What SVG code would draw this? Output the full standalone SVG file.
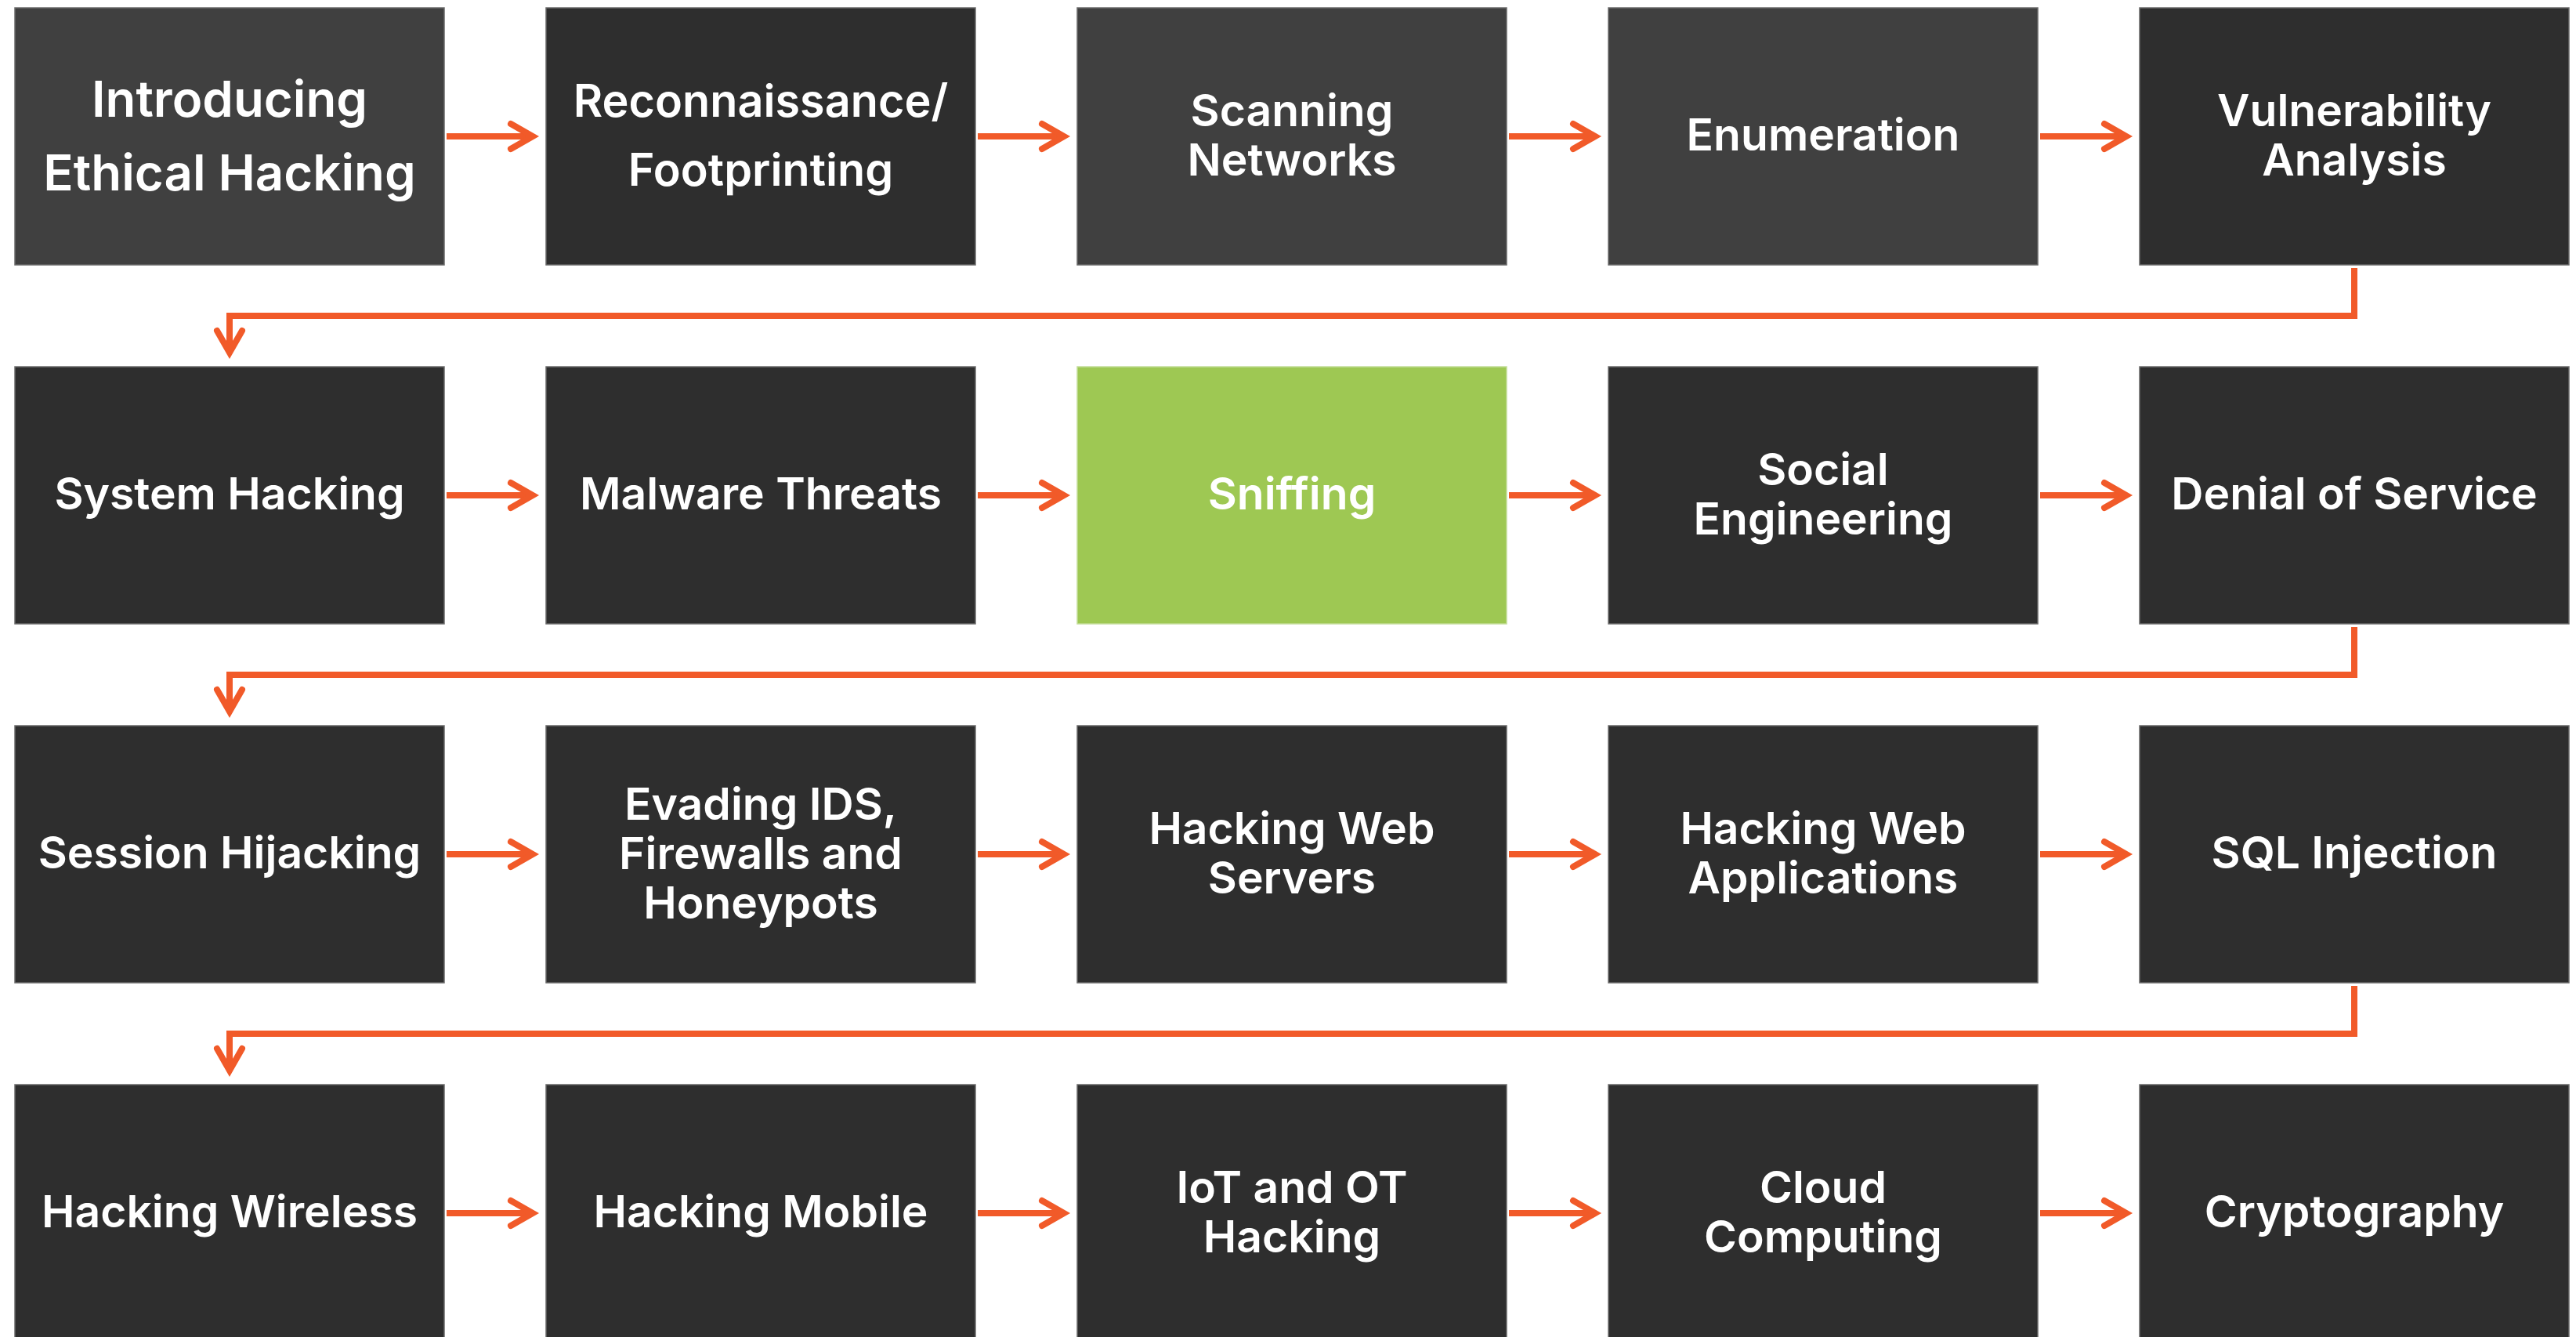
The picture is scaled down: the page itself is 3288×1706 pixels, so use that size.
<svg xmlns="http://www.w3.org/2000/svg" width="3288" height="1706" viewBox="0 0 3288 1706">
<style>
.box{fill:#2e2e2e;stroke:#6a6a6a;stroke-width:1.5}
.lite{fill:#404040}
.green{fill:#9ec853;stroke:#c2dd96}
.t{fill:#ffffff;font-family:Inter,"Liberation Sans",sans-serif;font-weight:600;font-size:57px;text-anchor:middle}
.conn{fill:none;stroke:#f15a29;stroke-width:8;stroke-linejoin:miter;marker-end:url(#chev)}
</style>
<defs>
<marker id="chev" viewBox="0 0 50 40" markerWidth="50" markerHeight="40" markerUnits="userSpaceOnUse" refX="36" refY="20" orient="auto" overflow="visible">
<path d="M 8 4 L 36 20 L 8 36" fill="none" stroke="#f15a29" stroke-width="8" stroke-linecap="round" stroke-linejoin="miter"/>
</marker>
</defs>
<rect width="3288" height="1706" fill="#ffffff"/>

<g id="connectors">
<path class="conn" d="M570 174H680"/>
<path class="conn" d="M1248 174H1358"/>
<path class="conn" d="M1926 174H2036"/>
<path class="conn" d="M2604 174H2714"/>
<path class="conn" d="M3005 342V403H293V450"/>
<path class="conn" d="M570 632H680"/>
<path class="conn" d="M1248 632H1358"/>
<path class="conn" d="M1926 632H2036"/>
<path class="conn" d="M2604 632H2714"/>
<path class="conn" d="M3005 800V861H293V908"/>
<path class="conn" d="M570 1090H680"/>
<path class="conn" d="M1248 1090H1358"/>
<path class="conn" d="M1926 1090H2036"/>
<path class="conn" d="M2604 1090H2714"/>
<path class="conn" d="M3005 1258V1319H293V1366"/>
<path class="conn" d="M570 1548H680"/>
<path class="conn" d="M1248 1548H1358"/>
<path class="conn" d="M1926 1548H2036"/>
<path class="conn" d="M2604 1548H2714"/>
</g>

<g id="n1"><rect class="box lite" x="19" y="10" width="548" height="328"/><text class="t" style="font-size:63.5px"><tspan x="293" y="149">Introducing</tspan><tspan x="293" y="243">Ethical Hacking</tspan></text></g>
<g id="n2"><rect class="box" x="697" y="10" width="548" height="328"/><text class="t" style="font-size:57.5px"><tspan x="971" y="149">Reconnaissance/</tspan><tspan x="971" y="237">Footprinting</tspan></text></g>
<g id="n3"><rect class="box lite" x="1375" y="10" width="548" height="328"/><text class="t"><tspan x="1649" y="161">Scanning</tspan><tspan x="1649" y="224">Networks</tspan></text></g>
<g id="n4"><rect class="box lite" x="2053" y="10" width="548" height="328"/><text class="t" x="2327" y="192">Enumeration</text></g>
<g id="n5"><rect class="box" x="2731" y="10" width="548" height="328"/><text class="t"><tspan x="3005" y="161">Vulnerability</tspan><tspan x="3005" y="224">Analysis</tspan></text></g>

<g id="n6"><rect class="box" x="19" y="468" width="548" height="328"/><text class="t" x="293" y="650">System Hacking</text></g>
<g id="n7"><rect class="box" x="697" y="468" width="548" height="328"/><text class="t" x="971" y="650">Malware Threats</text></g>
<g id="n8"><rect class="box green" x="1375" y="468" width="548" height="328"/><text class="t" x="1649" y="650">Sniffing</text></g>
<g id="n9"><rect class="box" x="2053" y="468" width="548" height="328"/><text class="t"><tspan x="2327" y="619">Social</tspan><tspan x="2327" y="682">Engineering</tspan></text></g>
<g id="n10"><rect class="box" x="2731" y="468" width="548" height="328"/><text class="t" x="3005" y="650">Denial of Service</text></g>

<g id="n11"><rect class="box" x="19" y="926" width="548" height="328"/><text class="t" x="293" y="1108">Session Hijacking</text></g>
<g id="n12"><rect class="box" x="697" y="926" width="548" height="328"/><text class="t"><tspan x="971" y="1046">Evading IDS,</tspan><tspan x="971" y="1109">Firewalls and</tspan><tspan x="971" y="1172">Honeypots</tspan></text></g>
<g id="n13"><rect class="box" x="1375" y="926" width="548" height="328"/><text class="t"><tspan x="1649" y="1077">Hacking Web</tspan><tspan x="1649" y="1140">Servers</tspan></text></g>
<g id="n14"><rect class="box" x="2053" y="926" width="548" height="328"/><text class="t"><tspan x="2327" y="1077">Hacking Web</tspan><tspan x="2327" y="1140">Applications</tspan></text></g>
<g id="n15"><rect class="box" x="2731" y="926" width="548" height="328"/><text class="t" x="3005" y="1108">SQL Injection</text></g>

<g id="n16"><rect class="box" x="19" y="1384" width="548" height="328"/><text class="t" x="293" y="1566">Hacking Wireless</text></g>
<g id="n17"><rect class="box" x="697" y="1384" width="548" height="328"/><text class="t" x="971" y="1566">Hacking Mobile</text></g>
<g id="n18"><rect class="box" x="1375" y="1384" width="548" height="328"/><text class="t"><tspan x="1649" y="1535">IoT and OT</tspan><tspan x="1649" y="1598">Hacking</tspan></text></g>
<g id="n19"><rect class="box" x="2053" y="1384" width="548" height="328"/><text class="t"><tspan x="2327" y="1535">Cloud</tspan><tspan x="2327" y="1598">Computing</tspan></text></g>
<g id="n20"><rect class="box" x="2731" y="1384" width="548" height="328"/><text class="t" x="3005" y="1566">Cryptography</text></g>
</svg>
